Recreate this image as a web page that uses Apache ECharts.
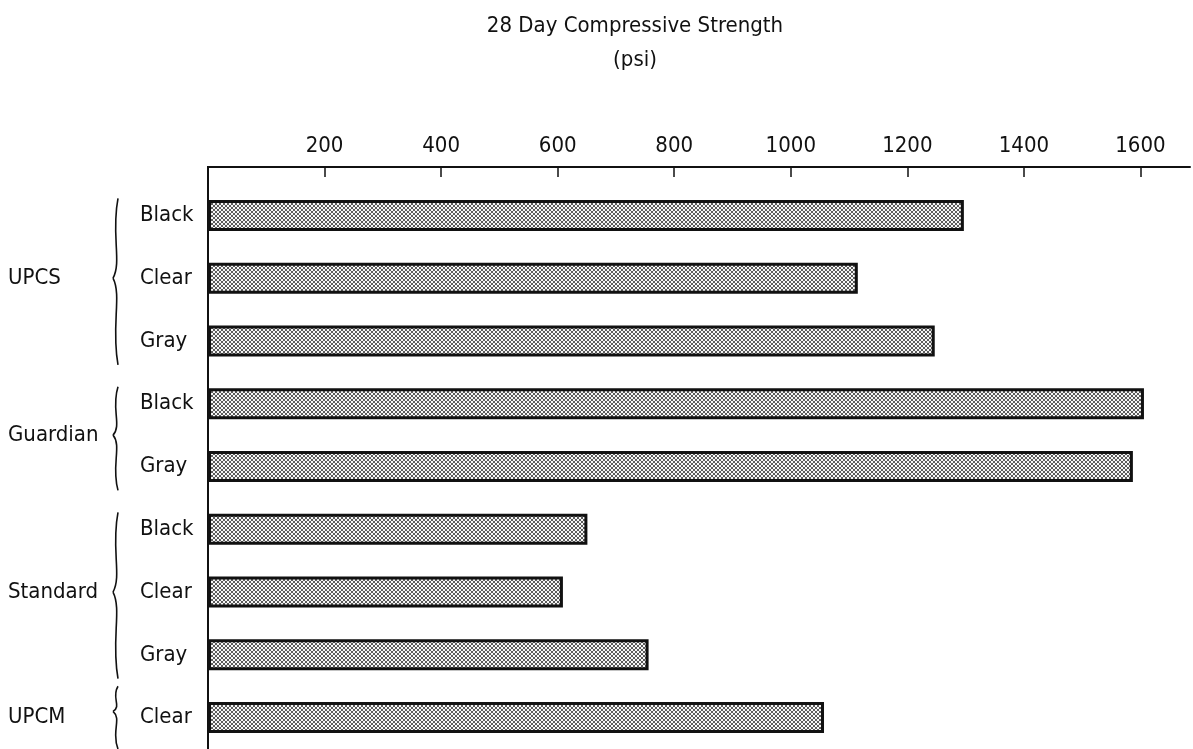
<!DOCTYPE html>
<html>
<head>
<meta charset="utf-8">
<script src="https://cdn.jsdelivr.net/npm/echarts@6/dist/echarts.min.js"></script>
<style>
html,body{margin:0;padding:0;background:#fff;}
#chart{width:1193px;height:749px;}
</style>
</head>
<body>
<div id="chart"></div>
<script>
// ---- data ----
const categories = ['Black', 'Clear', 'Gray', 'Black', 'Gray', 'Black', 'Clear', 'Gray', 'Clear'];
const strength = [1297, 1115, 1247, 1606, 1587, 651, 609, 756, 1057];
const groupNames = ['UPCS', 'Guardian', 'Standard', 'UPCM'];
const groupStart = [0, 3, 5, 8];
const groupEnd = [2, 4, 7, 8];
const tickValues = [200, 400, 600, 800, 1000, 1200, 1400, 1600];
const titleLines = ['28 Day Compressive Strength', '(psi)'];

const FONT = '"DejaVu Sans Condensed", "DejaVu Sans", sans-serif';
const FS = 22;

// dotted halftone pattern
function makePattern() {
  const c = document.createElement('canvas');
  c.width = 4; c.height = 4;
  const g = c.getContext('2d');
  g.fillStyle = '#f6f6f6';
  g.fillRect(0, 0, 4, 4);
  g.fillStyle = '#1a1a1a';
  const pts = [[0, 0], [4, 0], [0, 4], [4, 4], [2, 2]];
  pts.forEach(p => { g.beginPath(); g.arc(p[0], p[1], 0.95, 0, Math.PI * 2); g.fill(); });
  return c;
}

const chart = echarts.init(document.getElementById('chart'));
const option = {
  backgroundColor: '#ffffff',
  animation: false,
  title: {
    text: titleLines.join('\n'),
    left: 630,
    top: 4,
    textAlign: 'center',
    textStyle: { fontFamily: FONT, fontSize: FS, fontWeight: 'normal', color: '#111', lineHeight: 34, align: 'center' }
  },
  grid: { left: 208, right: 3, top: 184, bottom: -2, containLabel: false },
  xAxis: {
    type: 'value',
    position: 'top',
    offset: 17,
    min: 0,
    max: 1685,
    interval: 200,
    splitLine: { show: false },
    axisLine: { show: true, lineStyle: { color: '#111', width: 2 } },
    axisTick: { show: true, inside: true, length: 10, customValues: tickValues, lineStyle: { color: '#111', width: 1.5 } },
    axisLabel: { customValues: tickValues, formatter: v => String(v), fontFamily: FONT, fontSize: FS, color: '#111', margin: 10 }
  },
  yAxis: {
    type: 'category',
    inverse: true,
    data: categories,
    axisLine: { show: true, lineStyle: { color: '#111', width: 2 } },
    axisTick: { show: false },
    axisLabel: { fontFamily: FONT, fontSize: FS, color: '#111', align: 'left', margin: 68 }
  },
  series: [{
    type: 'bar',
    data: strength,
    barWidth: 31,
    itemStyle: {
      color: { image: makePattern(), repeat: 'repeat' },
      borderColor: '#111',
      borderWidth: 3
    }
  }]
};
chart.setOption(option);

function drawExtras() {
  const els = [];
  const x0 = chart.convertToPixel({ xAxisIndex: 0 }, 0);
  const c0 = chart.convertToPixel({ yAxisIndex: 0 }, 0);
  const band = chart.convertToPixel({ yAxisIndex: 0 }, 1) - c0;
  const gridTop = c0 - band / 2;
  // left axis segment up to the top axis line
  els.push({ type: 'line', shape: { x1: x0, y1: gridTop - 18, x2: x0, y2: gridTop + 1 }, style: { stroke: '#111', lineWidth: 2 } });
  const bx = 116;
  for (let i = 0; i < groupNames.length; i++) {
    const ys = chart.convertToPixel({ yAxisIndex: 0 }, groupStart[i]);
    const ye = chart.convertToPixel({ yAxisIndex: 0 }, groupEnd[i]);
    const single = groupStart[i] === groupEnd[i];
    const y1 = single ? ys - band * 0.5 : ys - band * 0.27;
    const y2 = single ? ye + band * 0.5 : ye + band * 0.38;
    const ym = single ? ys - band * 0.1 : (ys + ye) / 2;
    const h1 = ym - y1, h2 = y2 - ym;
    const st = { fill: null, stroke: '#111', lineWidth: 1.6 };
    els.push({ type: 'bezierCurve', shape: { x1: bx + 2, y1: y1, cpx1: bx - 5, cpy1: y1 + h1 * 0.45, cpx2: bx + 6, cpy2: ym - h1 * 0.2, x2: bx - 3, y2: ym }, style: st });
    els.push({ type: 'bezierCurve', shape: { x1: bx - 3, y1: ym, cpx1: bx + 6, cpy1: ym + h2 * 0.2, cpx2: bx - 5, cpy2: y2 - h2 * 0.45, x2: bx + 2, y2: y2 }, style: st });
    els.push({ type: 'text', x: 8, y: (ys + ye) / 2, style: { text: groupNames[i], font: FS + 'px ' + FONT, fill: '#111', verticalAlign: 'middle', textVerticalAlign: 'middle' } });
  }
  chart.setOption({ graphic: { elements: els } });
}
drawExtras();
</script>
</body>
</html>
